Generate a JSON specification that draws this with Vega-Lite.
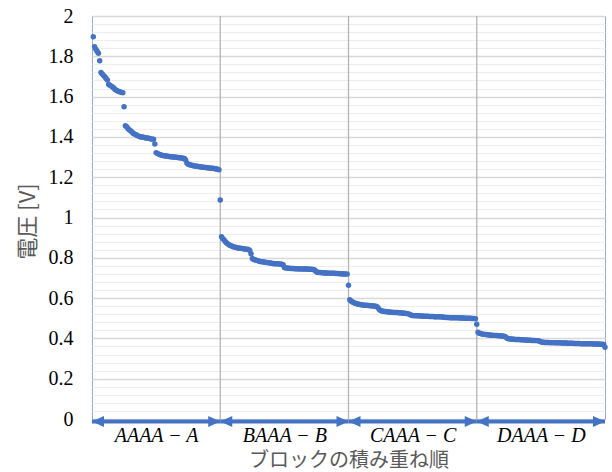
{
 "$schema": "https://vega.github.io/schema/vega-lite/v6.json",
 "width": 513, "height": 403,
 "autosize": {"type": "none"},
 "padding": {"left": 92, "top": 16, "right": 7, "bottom": 53},
 "background": "white",
 "config": {"view": {"stroke": "#8FAADC", "strokeWidth": 1}},
 "datasets": {
  "arrows": [{"s":0,"e":100},{"s":100,"e":200},{"s":200,"e":300},{"s":300,"e":400}],
  "pts": [
{"i":1,"v":1.897},{"i":2,"v":1.848},{"i":3,"v":1.835},{"i":4,"v":1.825},{"i":5,"v":1.815},{"i":6,"v":1.778},{"i":7,"v":1.72},{"i":8,"v":1.712},{"i":9,"v":1.705},{"i":10,"v":1.698},
{"i":11,"v":1.69},{"i":12,"v":1.683},{"i":13,"v":1.66},{"i":14,"v":1.656},{"i":15,"v":1.652},{"i":16,"v":1.648},{"i":17,"v":1.643},{"i":18,"v":1.635},{"i":19,"v":1.632},{"i":20,"v":1.628},
{"i":21,"v":1.625},{"i":22,"v":1.623},{"i":23,"v":1.621},{"i":24,"v":1.619},{"i":25,"v":1.55},{"i":26,"v":1.455},{"i":27,"v":1.45},{"i":28,"v":1.442},{"i":29,"v":1.436},{"i":30,"v":1.43},
{"i":31,"v":1.425},{"i":32,"v":1.418},{"i":33,"v":1.415},{"i":34,"v":1.412},{"i":35,"v":1.408},{"i":36,"v":1.405},{"i":37,"v":1.402},{"i":38,"v":1.4},{"i":39,"v":1.399},{"i":40,"v":1.398},
{"i":41,"v":1.397},{"i":42,"v":1.395},{"i":43,"v":1.394},{"i":44,"v":1.393},{"i":45,"v":1.392},{"i":46,"v":1.39},{"i":47,"v":1.389},{"i":48,"v":1.388},{"i":49,"v":1.365},{"i":50,"v":1.322},
{"i":51,"v":1.318},{"i":52,"v":1.315},{"i":53,"v":1.312},{"i":54,"v":1.31},{"i":55,"v":1.308},{"i":56,"v":1.307},{"i":57,"v":1.306},{"i":58,"v":1.305},{"i":59,"v":1.304},{"i":60,"v":1.303},
{"i":61,"v":1.302},{"i":62,"v":1.301},{"i":63,"v":1.3},{"i":64,"v":1.3},{"i":65,"v":1.299},{"i":66,"v":1.299},{"i":67,"v":1.298},{"i":68,"v":1.297},{"i":69,"v":1.296},{"i":70,"v":1.295},
{"i":71,"v":1.294},{"i":72,"v":1.293},{"i":73,"v":1.285},{"i":74,"v":1.27},{"i":75,"v":1.264},{"i":76,"v":1.262},{"i":77,"v":1.26},{"i":78,"v":1.259},{"i":79,"v":1.257},{"i":80,"v":1.256},
{"i":81,"v":1.255},{"i":82,"v":1.254},{"i":83,"v":1.253},{"i":84,"v":1.252},{"i":85,"v":1.251},{"i":86,"v":1.25},{"i":87,"v":1.249},{"i":88,"v":1.248},{"i":89,"v":1.248},{"i":90,"v":1.247},
{"i":91,"v":1.246},{"i":92,"v":1.246},{"i":93,"v":1.245},{"i":94,"v":1.244},{"i":95,"v":1.243},{"i":96,"v":1.242},{"i":97,"v":1.241},{"i":98,"v":1.24},{"i":99,"v":1.237},{"i":100,"v":1.087},
{"i":101,"v":0.905},{"i":102,"v":0.895},{"i":103,"v":0.888},{"i":104,"v":0.88},{"i":105,"v":0.874},{"i":106,"v":0.868},{"i":107,"v":0.864},{"i":108,"v":0.861},{"i":109,"v":0.858},{"i":110,"v":0.855},
{"i":111,"v":0.853},{"i":112,"v":0.852},{"i":113,"v":0.85},{"i":114,"v":0.849},{"i":115,"v":0.848},{"i":116,"v":0.847},{"i":117,"v":0.846},{"i":118,"v":0.845},{"i":119,"v":0.844},{"i":120,"v":0.843},
{"i":121,"v":0.842},{"i":122,"v":0.841},{"i":123,"v":0.836},{"i":124,"v":0.82},{"i":125,"v":0.796},{"i":126,"v":0.792},{"i":127,"v":0.79},{"i":128,"v":0.788},{"i":129,"v":0.786},{"i":130,"v":0.784},
{"i":131,"v":0.782},{"i":132,"v":0.781},{"i":133,"v":0.78},{"i":134,"v":0.779},{"i":135,"v":0.778},{"i":136,"v":0.777},{"i":137,"v":0.776},{"i":138,"v":0.775},{"i":139,"v":0.774},{"i":140,"v":0.773},
{"i":141,"v":0.772},{"i":142,"v":0.771},{"i":143,"v":0.771},{"i":144,"v":0.77},{"i":145,"v":0.77},{"i":146,"v":0.769},{"i":147,"v":0.769},{"i":148,"v":0.768},{"i":149,"v":0.765},{"i":150,"v":0.752},
{"i":151,"v":0.75},{"i":152,"v":0.749},{"i":153,"v":0.748},{"i":154,"v":0.748},{"i":155,"v":0.747},{"i":156,"v":0.747},{"i":157,"v":0.747},{"i":158,"v":0.746},{"i":159,"v":0.746},{"i":160,"v":0.746},
{"i":161,"v":0.745},{"i":162,"v":0.745},{"i":163,"v":0.745},{"i":164,"v":0.745},{"i":165,"v":0.744},{"i":166,"v":0.744},{"i":167,"v":0.744},{"i":168,"v":0.744},{"i":169,"v":0.743},{"i":170,"v":0.743},
{"i":171,"v":0.743},{"i":172,"v":0.742},{"i":173,"v":0.742},{"i":174,"v":0.737},{"i":175,"v":0.73},{"i":176,"v":0.728},{"i":177,"v":0.727},{"i":178,"v":0.727},{"i":179,"v":0.726},{"i":180,"v":0.726},
{"i":181,"v":0.725},{"i":182,"v":0.725},{"i":183,"v":0.725},{"i":184,"v":0.724},{"i":185,"v":0.724},{"i":186,"v":0.724},{"i":187,"v":0.723},{"i":188,"v":0.723},{"i":189,"v":0.723},{"i":190,"v":0.722},
{"i":191,"v":0.722},{"i":192,"v":0.722},{"i":193,"v":0.721},{"i":194,"v":0.721},{"i":195,"v":0.721},{"i":196,"v":0.72},{"i":197,"v":0.72},{"i":198,"v":0.72},{"i":199,"v":0.719},{"i":200,"v":0.664},
{"i":201,"v":0.592},{"i":202,"v":0.586},{"i":203,"v":0.581},{"i":204,"v":0.578},{"i":205,"v":0.575},{"i":206,"v":0.573},{"i":207,"v":0.571},{"i":208,"v":0.569},{"i":209,"v":0.568},{"i":210,"v":0.567},
{"i":211,"v":0.566},{"i":212,"v":0.565},{"i":213,"v":0.565},{"i":214,"v":0.564},{"i":215,"v":0.563},{"i":216,"v":0.563},{"i":217,"v":0.562},{"i":218,"v":0.562},{"i":219,"v":0.561},{"i":220,"v":0.561},
{"i":221,"v":0.56},{"i":222,"v":0.558},{"i":223,"v":0.552},{"i":224,"v":0.543},{"i":225,"v":0.538},{"i":226,"v":0.536},{"i":227,"v":0.535},{"i":228,"v":0.534},{"i":229,"v":0.533},{"i":230,"v":0.532},
{"i":231,"v":0.531},{"i":232,"v":0.531},{"i":233,"v":0.53},{"i":234,"v":0.53},{"i":235,"v":0.529},{"i":236,"v":0.529},{"i":237,"v":0.528},{"i":238,"v":0.528},{"i":239,"v":0.527},{"i":240,"v":0.527},
{"i":241,"v":0.526},{"i":242,"v":0.526},{"i":243,"v":0.525},{"i":244,"v":0.525},{"i":245,"v":0.524},{"i":246,"v":0.523},{"i":247,"v":0.521},{"i":248,"v":0.518},{"i":249,"v":0.515},{"i":250,"v":0.514},
{"i":251,"v":0.513},{"i":252,"v":0.513},{"i":253,"v":0.512},{"i":254,"v":0.512},{"i":255,"v":0.512},{"i":256,"v":0.511},{"i":257,"v":0.511},{"i":258,"v":0.511},{"i":259,"v":0.51},{"i":260,"v":0.51},
{"i":261,"v":0.51},{"i":262,"v":0.51},{"i":263,"v":0.509},{"i":264,"v":0.509},{"i":265,"v":0.509},{"i":266,"v":0.509},{"i":267,"v":0.508},{"i":268,"v":0.508},{"i":269,"v":0.508},{"i":270,"v":0.508},
{"i":271,"v":0.507},{"i":272,"v":0.507},{"i":273,"v":0.506},{"i":274,"v":0.505},{"i":275,"v":0.505},{"i":276,"v":0.504},{"i":277,"v":0.504},{"i":278,"v":0.504},{"i":279,"v":0.503},{"i":280,"v":0.503},
{"i":281,"v":0.503},{"i":282,"v":0.503},{"i":283,"v":0.502},{"i":284,"v":0.502},{"i":285,"v":0.502},{"i":286,"v":0.502},{"i":287,"v":0.501},{"i":288,"v":0.501},{"i":289,"v":0.501},{"i":290,"v":0.501},
{"i":291,"v":0.5},{"i":292,"v":0.5},{"i":293,"v":0.5},{"i":294,"v":0.5},{"i":295,"v":0.5},{"i":296,"v":0.499},{"i":297,"v":0.499},{"i":298,"v":0.499},{"i":299,"v":0.498},{"i":300,"v":0.47},
{"i":301,"v":0.43},{"i":302,"v":0.426},{"i":303,"v":0.424},{"i":304,"v":0.422},{"i":305,"v":0.421},{"i":306,"v":0.42},{"i":307,"v":0.419},{"i":308,"v":0.418},{"i":309,"v":0.418},{"i":310,"v":0.417},
{"i":311,"v":0.416},{"i":312,"v":0.416},{"i":313,"v":0.415},{"i":314,"v":0.415},{"i":315,"v":0.414},{"i":316,"v":0.414},{"i":317,"v":0.413},{"i":318,"v":0.413},{"i":319,"v":0.412},{"i":320,"v":0.412},
{"i":321,"v":0.411},{"i":322,"v":0.409},{"i":323,"v":0.404},{"i":324,"v":0.4},{"i":325,"v":0.398},{"i":326,"v":0.397},{"i":327,"v":0.397},{"i":328,"v":0.396},{"i":329,"v":0.396},{"i":330,"v":0.395},
{"i":331,"v":0.395},{"i":332,"v":0.394},{"i":333,"v":0.394},{"i":334,"v":0.393},{"i":335,"v":0.393},{"i":336,"v":0.393},{"i":337,"v":0.392},{"i":338,"v":0.392},{"i":339,"v":0.392},{"i":340,"v":0.391},
{"i":341,"v":0.391},{"i":342,"v":0.391},{"i":343,"v":0.39},{"i":344,"v":0.39},{"i":345,"v":0.39},{"i":346,"v":0.389},{"i":347,"v":0.389},{"i":348,"v":0.388},{"i":349,"v":0.386},{"i":350,"v":0.383},
{"i":351,"v":0.381},{"i":352,"v":0.381},{"i":353,"v":0.38},{"i":354,"v":0.38},{"i":355,"v":0.38},{"i":356,"v":0.38},{"i":357,"v":0.379},{"i":358,"v":0.379},{"i":359,"v":0.379},{"i":360,"v":0.379},
{"i":361,"v":0.378},{"i":362,"v":0.378},{"i":363,"v":0.378},{"i":364,"v":0.378},{"i":365,"v":0.378},{"i":366,"v":0.377},{"i":367,"v":0.377},{"i":368,"v":0.377},{"i":369,"v":0.377},{"i":370,"v":0.377},
{"i":371,"v":0.376},{"i":372,"v":0.376},{"i":373,"v":0.376},{"i":374,"v":0.376},{"i":375,"v":0.376},{"i":376,"v":0.375},{"i":377,"v":0.375},{"i":378,"v":0.375},{"i":379,"v":0.375},{"i":380,"v":0.375},
{"i":381,"v":0.374},{"i":382,"v":0.374},{"i":383,"v":0.374},{"i":384,"v":0.374},{"i":385,"v":0.374},{"i":386,"v":0.373},{"i":387,"v":0.373},{"i":388,"v":0.373},{"i":389,"v":0.373},{"i":390,"v":0.373},
{"i":391,"v":0.372},{"i":392,"v":0.372},{"i":393,"v":0.372},{"i":394,"v":0.372},{"i":395,"v":0.372},{"i":396,"v":0.371},{"i":397,"v":0.371},{"i":398,"v":0.371},{"i":399,"v":0.37},{"i":400,"v":0.356}
  ]
 },
 "layer": [
  {
   "data": {"name": "arrows"},
   "transform": [{"filter": "datum.s > 0"}],
   "mark": {"type": "rule", "color": "#b4b4b4", "strokeWidth": 1.3},
   "encoding": {
    "x": {"field": "s", "type": "quantitative",
     "scale": {"domain": [0, 400], "nice": false, "zero": false},
     "axis": {
      "values": [50, 150, 250, 350],
      "ticks": false, "domain": false, "grid": false,
      "labelExpr": "datum.value==50?'AAAA − A':datum.value==150?'BAAA − B':datum.value==250?'CAAA − C':'DAAA − D'",
      "labelFont": "Liberation Serif", "labelFontStyle": "italic", "labelFontSize": 20, "labelColor": "#000000",
      "labelPadding": 6, "labelOverlap": false, "labelBound": false, "labelFlush": false,
      "title": "ブロックの積み重ね順", "titleFont": "Noto Sans CJK JP", "titleFontSize": 20, "titleFontWeight": "normal",
      "titleColor": "#595959", "titleX": 256.5, "titleY": 41, "titleBaseline": "middle", "titleAlign": "center"
     }
    }
   }
  },
  {
   "data": {"name": "pts"},
   "mark": {"type": "circle", "size": 30, "color": "#4472C4", "opacity": 1},
   "encoding": {
    "x": {"field": "i", "type": "quantitative",
     "axis": {
      "values": [50, 150, 250, 350],
      "ticks": false, "domain": false, "grid": false,
      "labelExpr": "datum.value==50?'AAAA − A':datum.value==150?'BAAA − B':datum.value==250?'CAAA − C':'DAAA − D'",
      "labelFont": "Liberation Serif", "labelFontStyle": "italic", "labelFontSize": 20, "labelColor": "#000000",
      "labelPadding": 6, "labelOverlap": false, "labelBound": false, "labelFlush": false,
      "title": "ブロックの積み重ね順", "titleFont": "Noto Sans CJK JP", "titleFontSize": 20, "titleFontWeight": "normal",
      "titleColor": "#595959", "titleX": 256.5, "titleY": 41, "titleBaseline": "middle", "titleAlign": "center"
     }
    },
    "y": {"field": "v", "type": "quantitative",
     "scale": {"domain": [0, 2], "nice": false},
     "axis": {
      "values": [0,0.04,0.08,0.12,0.16,0.2,0.24,0.28,0.32,0.36,0.4,0.44,0.48,0.52,0.56,0.6,0.64,0.68,0.72,0.76,0.8,0.84,0.88,0.92,0.96,1,1.04,1.08,1.12,1.16,1.2,1.24,1.28,1.32,1.36,1.4,1.44,1.48,1.52,1.56,1.6,1.64,1.68,1.72,1.76,1.8,1.84,1.88,1.92,1.96,2],
      "ticks": false, "domain": false,
      "labelExpr": "abs(datum.value*5-round(datum.value*5))<0.001 ? format(datum.value,'~g') : ''",
      "labelFont": "Liberation Serif", "labelFontSize": 20, "labelColor": "#000000",
      "labelPadding": 19, "labelOverlap": false, "labelBound": false, "labelFlush": false,
      "grid": true,
      "gridColor": {"condition": {"test": "abs(datum.value*5-round(datum.value*5))<0.001", "value": "#d9d9d9"}, "value": "#eeeeee"},
      "gridWidth": {"condition": {"test": "abs(datum.value*5-round(datum.value*5))<0.001", "value": 1.3}, "value": 1},
      "title": "電圧 [V]", "titleFont": "Noto Sans CJK JP", "titleFontSize": 22, "titleFontWeight": "normal",
      "titleColor": "#595959", "titleX": -65, "titleY": 205, "titleAngle": -90, "titleBaseline": "middle", "titleAlign": "center"
     }
    }
   }
  },
  {
   "data": {"name": "arrows"},
   "mark": {"type": "rule", "color": "#4472C4", "strokeWidth": 4, "yOffset": 2.5},
   "encoding": {
    "x": {"field": "s", "type": "quantitative",
     "axis": {
      "values": [50, 150, 250, 350],
      "ticks": false, "domain": false, "grid": false,
      "labelExpr": "datum.value==50?'AAAA − A':datum.value==150?'BAAA − B':datum.value==250?'CAAA − C':'DAAA − D'",
      "labelFont": "Liberation Serif", "labelFontStyle": "italic", "labelFontSize": 20, "labelColor": "#000000",
      "labelPadding": 6, "labelOverlap": false, "labelBound": false, "labelFlush": false,
      "title": "ブロックの積み重ね順", "titleFont": "Noto Sans CJK JP", "titleFontSize": 20, "titleFontWeight": "normal",
      "titleColor": "#595959", "titleX": 256.5, "titleY": 41, "titleBaseline": "middle", "titleAlign": "center"
     }
    },
    "x2": {"field": "e"},
    "y": {"datum": 0, "type": "quantitative",
     "axis": {
      "values": [0,0.04,0.08,0.12,0.16,0.2,0.24,0.28,0.32,0.36,0.4,0.44,0.48,0.52,0.56,0.6,0.64,0.68,0.72,0.76,0.8,0.84,0.88,0.92,0.96,1,1.04,1.08,1.12,1.16,1.2,1.24,1.28,1.32,1.36,1.4,1.44,1.48,1.52,1.56,1.6,1.64,1.68,1.72,1.76,1.8,1.84,1.88,1.92,1.96,2],
      "ticks": false, "domain": false,
      "labelExpr": "abs(datum.value*5-round(datum.value*5))<0.001 ? format(datum.value,'~g') : ''",
      "labelFont": "Liberation Serif", "labelFontSize": 20, "labelColor": "#000000",
      "labelPadding": 19, "labelOverlap": false, "labelBound": false, "labelFlush": false,
      "grid": true,
      "gridColor": {"condition": {"test": "abs(datum.value*5-round(datum.value*5))<0.001", "value": "#d9d9d9"}, "value": "#eeeeee"},
      "gridWidth": {"condition": {"test": "abs(datum.value*5-round(datum.value*5))<0.001", "value": 1.3}, "value": 1},
      "title": "電圧 [V]", "titleFont": "Noto Sans CJK JP", "titleFontSize": 22, "titleFontWeight": "normal",
      "titleColor": "#595959", "titleX": -65, "titleY": 205, "titleAngle": -90, "titleBaseline": "middle", "titleAlign": "center"
     }
    }
   }
  },
  {
   "data": {"name": "arrows"},
   "mark": {"type": "point", "shape": "M 0 0 L 2 -0.92 L 2 0.92 Z", "size": 144, "filled": true, "color": "#4472C4", "opacity": 1, "yOffset": 2.5},
   "encoding": {
    "x": {"field": "s", "type": "quantitative",
     "axis": {
      "values": [50, 150, 250, 350],
      "ticks": false, "domain": false, "grid": false,
      "labelExpr": "datum.value==50?'AAAA − A':datum.value==150?'BAAA − B':datum.value==250?'CAAA − C':'DAAA − D'",
      "labelFont": "Liberation Serif", "labelFontStyle": "italic", "labelFontSize": 20, "labelColor": "#000000",
      "labelPadding": 6, "labelOverlap": false, "labelBound": false, "labelFlush": false,
      "title": "ブロックの積み重ね順", "titleFont": "Noto Sans CJK JP", "titleFontSize": 20, "titleFontWeight": "normal",
      "titleColor": "#595959", "titleX": 256.5, "titleY": 41, "titleBaseline": "middle", "titleAlign": "center"
     }
    },
    "y": {"datum": 0, "type": "quantitative",
     "axis": {
      "values": [0,0.04,0.08,0.12,0.16,0.2,0.24,0.28,0.32,0.36,0.4,0.44,0.48,0.52,0.56,0.6,0.64,0.68,0.72,0.76,0.8,0.84,0.88,0.92,0.96,1,1.04,1.08,1.12,1.16,1.2,1.24,1.28,1.32,1.36,1.4,1.44,1.48,1.52,1.56,1.6,1.64,1.68,1.72,1.76,1.8,1.84,1.88,1.92,1.96,2],
      "ticks": false, "domain": false,
      "labelExpr": "abs(datum.value*5-round(datum.value*5))<0.001 ? format(datum.value,'~g') : ''",
      "labelFont": "Liberation Serif", "labelFontSize": 20, "labelColor": "#000000",
      "labelPadding": 19, "labelOverlap": false, "labelBound": false, "labelFlush": false,
      "grid": true,
      "gridColor": {"condition": {"test": "abs(datum.value*5-round(datum.value*5))<0.001", "value": "#d9d9d9"}, "value": "#eeeeee"},
      "gridWidth": {"condition": {"test": "abs(datum.value*5-round(datum.value*5))<0.001", "value": 1.3}, "value": 1},
      "title": "電圧 [V]", "titleFont": "Noto Sans CJK JP", "titleFontSize": 22, "titleFontWeight": "normal",
      "titleColor": "#595959", "titleX": -65, "titleY": 205, "titleAngle": -90, "titleBaseline": "middle", "titleAlign": "center"
     }
    }
   }
  },
  {
   "data": {"name": "arrows"},
   "mark": {"type": "point", "shape": "M 0 0 L -2 -0.92 L -2 0.92 Z", "size": 144, "filled": true, "color": "#4472C4", "opacity": 1, "yOffset": 2.5},
   "encoding": {
    "x": {"field": "e", "type": "quantitative",
     "axis": {
      "values": [50, 150, 250, 350],
      "ticks": false, "domain": false, "grid": false,
      "labelExpr": "datum.value==50?'AAAA − A':datum.value==150?'BAAA − B':datum.value==250?'CAAA − C':'DAAA − D'",
      "labelFont": "Liberation Serif", "labelFontStyle": "italic", "labelFontSize": 20, "labelColor": "#000000",
      "labelPadding": 6, "labelOverlap": false, "labelBound": false, "labelFlush": false,
      "title": "ブロックの積み重ね順", "titleFont": "Noto Sans CJK JP", "titleFontSize": 20, "titleFontWeight": "normal",
      "titleColor": "#595959", "titleX": 256.5, "titleY": 41, "titleBaseline": "middle", "titleAlign": "center"
     }
    },
    "y": {"datum": 0, "type": "quantitative",
     "axis": {
      "values": [0,0.04,0.08,0.12,0.16,0.2,0.24,0.28,0.32,0.36,0.4,0.44,0.48,0.52,0.56,0.6,0.64,0.68,0.72,0.76,0.8,0.84,0.88,0.92,0.96,1,1.04,1.08,1.12,1.16,1.2,1.24,1.28,1.32,1.36,1.4,1.44,1.48,1.52,1.56,1.6,1.64,1.68,1.72,1.76,1.8,1.84,1.88,1.92,1.96,2],
      "ticks": false, "domain": false,
      "labelExpr": "abs(datum.value*5-round(datum.value*5))<0.001 ? format(datum.value,'~g') : ''",
      "labelFont": "Liberation Serif", "labelFontSize": 20, "labelColor": "#000000",
      "labelPadding": 19, "labelOverlap": false, "labelBound": false, "labelFlush": false,
      "grid": true,
      "gridColor": {"condition": {"test": "abs(datum.value*5-round(datum.value*5))<0.001", "value": "#d9d9d9"}, "value": "#eeeeee"},
      "gridWidth": {"condition": {"test": "abs(datum.value*5-round(datum.value*5))<0.001", "value": 1.3}, "value": 1},
      "title": "電圧 [V]", "titleFont": "Noto Sans CJK JP", "titleFontSize": 22, "titleFontWeight": "normal",
      "titleColor": "#595959", "titleX": -65, "titleY": 205, "titleAngle": -90, "titleBaseline": "middle", "titleAlign": "center"
     }
    }
   }
  }
 ]
}
